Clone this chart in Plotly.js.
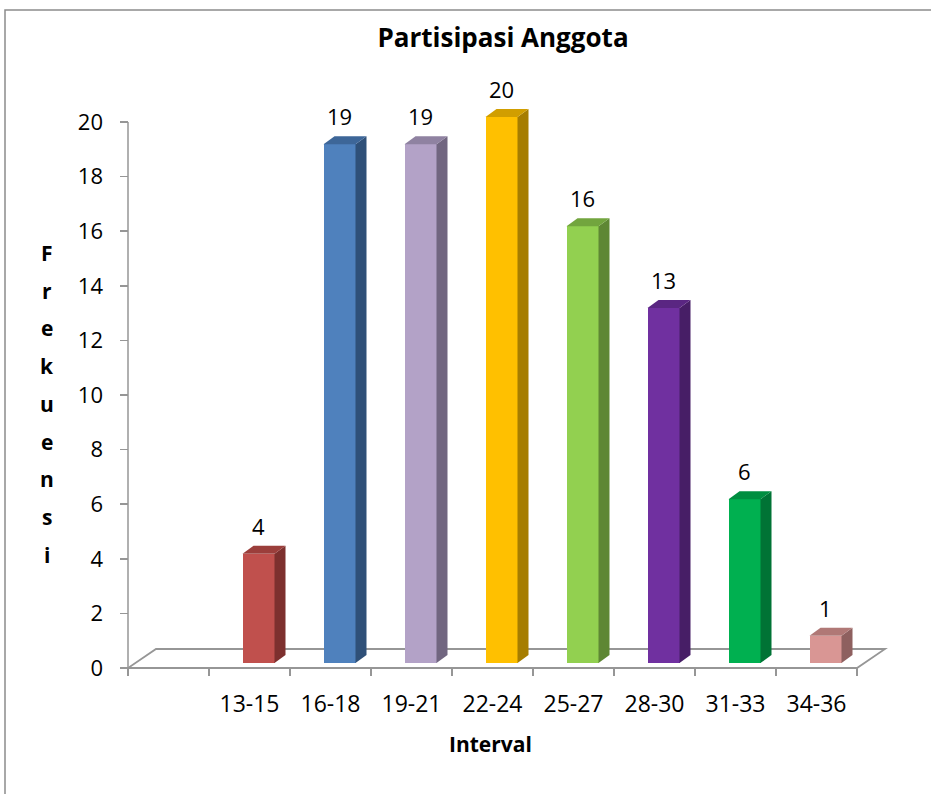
<!DOCTYPE html>
<html><head><meta charset="utf-8">
<script src="https://cdn.plot.ly/plotly-3.0.1.min.js"></script>
<style>html,body{margin:0;padding:0;background:#fff}</style>
</head><body><div id="chart" style="width:931px;height:794px"></div>
<script>
// ---- data ----
const intervals = ['13-15', '16-18', '19-21', '22-24', '25-27', '28-30', '31-33', '34-36'];
const frekuensi = [4, 19, 19, 20, 16, 13, 6, 1];
const frontColors = ['#C0504D', '#4F81BD', '#B3A2C7', '#FFC000', '#92D050', '#7030A0', '#00B050', '#D99694'];
const sideColors  = ['#7D302E', '#2F5078', '#716680', '#A67D00', '#5E8734', '#471E66', '#007335', '#8E605F'];
const topColors   = ['#9B3E3B', '#3D6698', '#8F82A1', '#D19E00', '#72A53E', '#5A2682', '#008E40', '#B07876'];
const yTicks = [0, 2, 4, 6, 8, 10, 12, 14, 16, 18, 20];
const chartTitle = 'Partisipasi Anggota';
const xTitle = 'Interval';
const yTitle = 'Frekuensi';

// ---- layout geometry ----
const W = 931, H = 794;
const L = 120, R = 890, T = 100, B = 676;      // plot area in pixels
const AX_X = 128, AX_Y = 668;                   // axis corner pixel
const PX = 81, PY = 27.3;                       // pixels per unit
const xMin = -0.5 - (AX_X - L) / PX, xMax = -0.5 + (R - AX_X) / PX;
const yMin = -(B - AX_Y) / PY, yMax = (AX_Y - T) / PY;
const FONT = '"Open Sans", Carlito, Calibri, sans-serif';
const GRAY = '#969696';

const xs = intervals.map((_, i) => i + 1);     // first slot left empty
const bounds = [];
for (let i = 0; i <= intervals.length + 1; i++) bounds.push(i - 0.5);

// 3D bar geometry (converted from pixels to data units)
const barW = 32 / PX, barOff = -7 / PX, baseOff = 5 / PY;
const dX = 11 / PX, dY = 8 / PY;
const floorDX = 28 / PX, floorDY = 19 / PY;

const traces = [{
  type: 'bar', x: xs, y: frekuensi, base: frekuensi.map(() => baseOff),
  width: barW, offset: barOff,
  marker: {color: frontColors, line: {width: 0}},
  hoverinfo: 'x+y', showlegend: false
}, {
  type: 'scatter', mode: 'none', x: xs, y: frekuensi, xaxis: 'x2', yaxis: 'y',
  hoverinfo: 'skip', showlegend: false
}];

const shapes = [];
// outer chart border
shapes.push({type: 'rect', xref: 'paper', yref: 'paper',
  x0: (5 - L) / (R - L), x1: (W + 20 - L) / (R - L),
  y0: (B - (H + 20)) / (B - T), y1: (B - 10) / (B - T),
  line: {color: '#8C8C8C', width: 1.5}, fillcolor: 'rgba(0,0,0,0)', layer: 'below'});
// floor
const fx0 = bounds[0], fx1 = bounds[bounds.length - 1];
shapes.push({type: 'path', xref: 'x', yref: 'y', layer: 'below',
  path: `M${fx0},0 L${fx1},0 L${fx1 + floorDX},${floorDY} L${fx0 + floorDX},${floorDY} Z`,
  line: {color: GRAY, width: 1.8}, fillcolor: 'rgba(0,0,0,0)'});
// y axis line
shapes.push({type: 'line', xref: 'x', yref: 'y', layer: 'below',
  x0: fx0, x1: fx0, y0: 0, y1: yTicks[yTicks.length - 1],
  line: {color: GRAY, width: 1.5}});
// bar side and top faces
frekuensi.forEach((v, i) => {
  const l = xs[i] + barOff, r = l + barW, b = baseOff, t = baseOff + v;
  shapes.push({type: 'path', xref: 'x', yref: 'y', layer: 'above',
    path: `M${r},${b} L${r},${t} L${r + dX},${t + dY} L${r + dX},${b + dY} Z`,
    fillcolor: sideColors[i], line: {width: 0}});
  shapes.push({type: 'path', xref: 'x', yref: 'y', layer: 'above',
    path: `M${l},${t} L${r},${t} L${r + dX},${t + dY} L${l + dX},${t + dY} Z`,
    fillcolor: topColors[i], line: {width: 0}});
});

const px2x = p => (p - L) / (R - L);
const px2y = p => (B - p) / (B - T);

const annotations = [];
// data labels
frekuensi.forEach((v, i) => {
  annotations.push({xref: 'x', yref: 'y', x: xs[i] + barOff + barW / 2, y: baseOff + v,
    text: String(v), showarrow: false, yshift: 28, yanchor: 'middle', xanchor: 'center',
    font: {family: FONT, size: 22, color: '#000'}});
});
// x title
annotations.push({xref: 'paper', yref: 'paper', x: px2x(490), y: px2y(744),
  text: '<b>' + xTitle + '</b>', showarrow: false, xanchor: 'center', yanchor: 'middle',
  font: {family: FONT, size: 21, color: '#000'}});
// y title, one letter per line
yTitle.split('').forEach((ch, k) => {
  annotations.push({xref: 'paper', yref: 'paper', x: px2x(47), y: px2y(253 + k * 37.7),
    text: '<b>' + ch + '</b>', showarrow: false, xanchor: 'center', yanchor: 'middle',
    font: {family: FONT, size: 21, color: '#000'}});
});

const layout = {
  width: W, height: H,
  margin: {l: L, r: W - R, t: T, b: H - B, pad: 0},
  paper_bgcolor: '#fff', plot_bgcolor: 'rgba(0,0,0,0)',
  showlegend: false, bargap: 0,
  title: {text: '<b>' + chartTitle + '</b>', xref: 'container', yref: 'container',
    x: 503 / W, xanchor: 'center', y: 1 - 38 / H, yanchor: 'middle',
    font: {family: FONT, size: 26, color: '#000'}},
  xaxis: {range: [xMin, xMax], tickmode: 'array', tickvals: xs, ticktext: intervals,
    ticks: '', showline: false, showgrid: false, zeroline: false, fixedrange: true,
    ticklabelstandoff: 12, tickfont: {family: FONT, size: 23, color: '#000'}},
  xaxis2: {overlaying: 'x', anchor: 'y', side: 'bottom', range: [xMin, xMax],
    tickmode: 'array', tickvals: bounds, ticks: 'inside', ticklen: 8, tickwidth: 1.5,
    tickcolor: GRAY, showticklabels: false, showline: false, showgrid: false, zeroline: false},
  yaxis: {range: [yMin, yMax], tickmode: 'array', tickvals: yTicks, ticks: 'inside',
    ticklen: 8, tickwidth: 1.5, tickcolor: GRAY, showline: false, showgrid: false, zeroline: false,
    ticklabelstandoff: 16, tickfont: {family: FONT, size: 22, color: '#000'}},
  shapes: shapes, annotations: annotations
};

Plotly.newPlot('chart', traces, layout, {displayModeBar: false, staticPlot: true});
</script></body></html>
